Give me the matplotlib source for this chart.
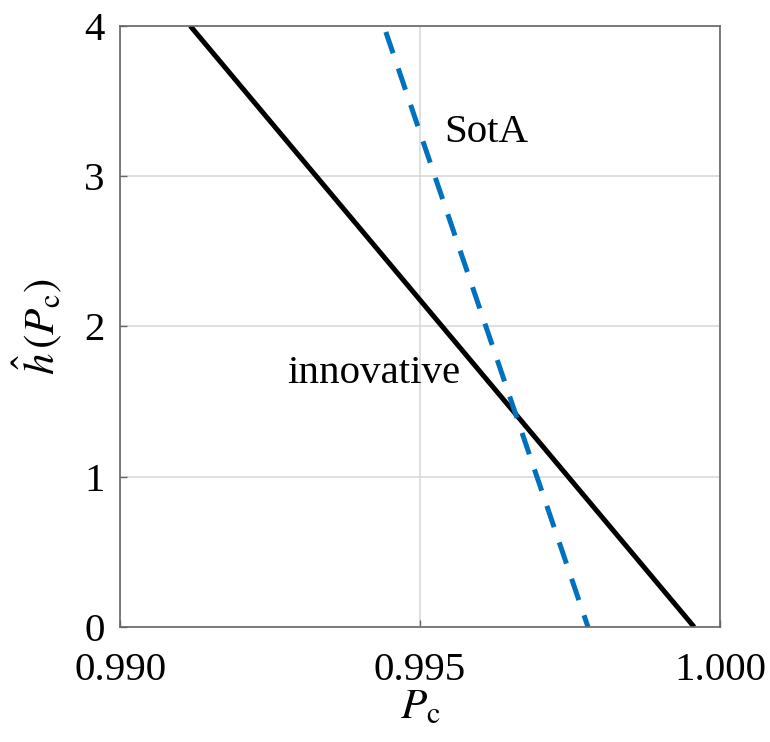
import matplotlib
matplotlib.use("Agg")
import matplotlib.pyplot as plt

plt.rcParams['font.family'] = ['Liberation Serif', 'DejaVu Serif']
plt.rcParams['mathtext.fontset'] = 'stix'

# Data
pc_innovative = [0.99117, 0.99957]
h_innovative = [4.0, 0.0]
pc_sota = [0.99443, 0.99780]
h_sota = [3.96, 0.0]
xticks = [0.990, 0.995, 1.000]
xticklabels = ["0.990", "0.995", "1.000"]
yticks = [0, 1, 2, 3, 4]

fig = plt.figure(figsize=(7.7, 7.42), dpi=100)
ax = fig.add_axes([0.156, 0.155, 0.779, 0.810])

ax.plot(pc_innovative, h_innovative, color='black', lw=3.6, solid_capstyle='butt')
ax.plot(pc_sota, h_sota, color='#0072BD', lw=3.6, linestyle=(0, (4.5, 3.2)), dash_capstyle='butt')

ax.set_xlim(0.990, 1.000)
ax.set_ylim(0, 4)
ax.set_xticks(xticks)
ax.set_xticklabels(xticklabels)
ax.set_yticks(yticks)
ax.grid(True, color='#d9d9d9', lw=1.2)
ax.set_axisbelow(True)
for s in ax.spines.values():
    s.set_color('#666666')
    s.set_linewidth(1.2)
ax.tick_params(direction='in', length=5, width=1, color='#666666', labelsize=29.5, top=False, right=False)
ax.tick_params(axis='x', pad=18)
ax.tick_params(axis='y', pad=11)

ax.text(0.99279, 1.69, "innovative", fontsize=29.5, ha='left', va='center')
ax.text(0.99541, 3.29, "SotA", fontsize=29.5, ha='left', va='center')

ax.set_xlabel(r"$P_{\mathrm{c}}$", fontsize=31, labelpad=0)
ax.set_ylabel(r"$\hat{h}\,(P_{\mathrm{c}})$", fontsize=31, labelpad=14)

fig.savefig("out.png", dpi=100)
